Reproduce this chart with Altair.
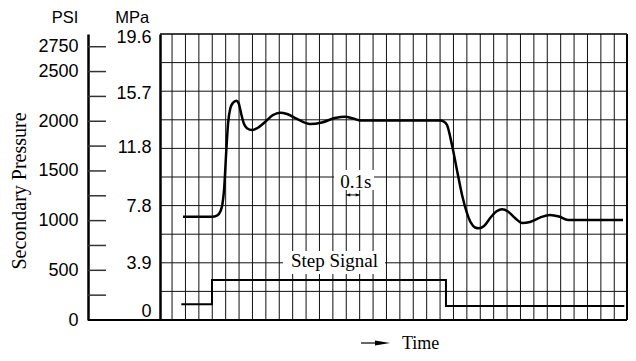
import altair as alt
import pandas as pd

# ---- data (time in 0.1 s grid units, pressure in MPa) ----
curve_t = [1.82, 3.98, 4.35, 4.62, 4.76, 4.88, 5.05, 5.18, 5.35, 5.55, 5.79, 5.97,
           6.15, 6.35, 6.59, 6.97, 7.34, 7.94, 8.53, 9.06, 9.58, 10.32, 11.29, 12.19,
           13.16, 13.91, 14.50, 15.10, 21.00, 21.29, 21.52, 21.89, 22.26, 22.64, 23.01,
           23.31, 23.61, 23.91, 24.28, 24.80, 25.25, 25.62, 26.07, 26.59, 27.12, 27.71,
           28.46, 29.20, 29.88, 30.55, 31.22, 34.65]
curve_p = [7.08, 7.08, 7.16, 7.47, 7.95, 8.91, 11.65, 13.48, 14.51, 14.89, 15.03, 14.85,
           14.17, 13.48, 13.14, 13.02, 13.14, 13.57, 14.05, 14.21, 14.12, 13.78, 13.43, 13.54,
           13.84, 13.93, 13.81, 13.67, 13.67, 13.60, 13.36, 11.99, 10.28, 8.57, 7.33,
           6.65, 6.34, 6.28, 6.44, 7.06, 7.47, 7.59, 7.44, 6.99, 6.65, 6.72,
           7.02, 7.20, 7.09, 6.85, 6.85, 6.85]
step_t = [1.69, 3.98, 21.44, 34.75]
step_p = [1.075, 2.74, 0.96, 0.96]

vgrid = [1, 2, 3, 4, 5, 6, 7, 8, 9, 10, 11, 12, 13, 14, 15, 16, 17, 18, 19, 20,
         21, 22, 23, 24, 25, 26, 27, 28, 29, 30, 31, 32, 33, 34]
hgrid = [1.96, 3.92, 5.88, 7.84, 9.8, 11.76, 13.72, 15.68, 17.64]
mpa_labels = [0, 3.9, 7.8, 11.8, 15.7, 19.6]
psi_labels = [0, 500, 1000, 1500, 2000, 2500, 2750]
psi_ticks = [250, 500, 750, 1000, 1250, 1500, 1750, 2000, 2250, 2500, 2750]

# annotation boxes (white backgrounds behind labels)
box_x = [9.28, 13.09]
box_x2 = [16.89, 16.07]
box_y = [3.15, 8.91]
box_y2 = [4.73, 10.28]
notes = ["Step Signal", "0.1s"]
note_t = [13.12, 14.71]
note_p = [3.61, 9.06]

W, H = 467, 286
SANS = "Liberation Sans"
SERIF = "Liberation Serif"

xs = alt.Scale(domain=[0.1, 34.95], nice=False, zero=False)
ys = alt.Scale(domain=[0, 19.6], nice=False, zero=False)
mpa_axis = alt.Axis(values=mpa_labels, format=".1~f", title=None, ticks=False, tickSize=0,
                    grid=False, domain=True, domainColor="black", domainWidth=2.5,
                    labelFont=SANS, labelFontSize=18, labelColor="black", labelPadding=9,
                    labelFlush=False, labelOverlap=False,
                    labelOffset={"condition": [
                        {"test": "datum.value == 0", "value": -9},
                        {"test": "datum.value > 19", "value": 3},
                        {"test": "datum.value > 15 && datum.value < 16", "value": 3},
                    ], "value": 0})


def X(f):
    return alt.X(f, type="quantitative", scale=xs, axis=None)


def Y(f):
    return alt.Y(f, type="quantitative", scale=ys, axis=mpa_axis)


one = alt.Data(values=[{}])

curve_df = pd.DataFrame({"t": curve_t, "p": curve_p})
step_df = pd.DataFrame({"t": step_t, "p": step_p})
vgrid_df = pd.DataFrame({"t": vgrid})
hgrid_df = pd.DataFrame({"p": hgrid})
box_df = pd.DataFrame({"x": box_x, "x2": box_x2, "y": box_y, "y2": box_y2})
note_df = pd.DataFrame({"label": notes, "t": note_t, "p": note_p})

vg = alt.Chart(vgrid_df).mark_rule(color="#111", strokeWidth=1).encode(x=X("t"))
hg = alt.Chart(hgrid_df).mark_rule(color="#111", strokeWidth=1).encode(y=Y("p"))
boxes = alt.Chart(box_df).mark_rect(color="white", opacity=1).encode(
    x=X("x"), x2="x2", y=Y("y"), y2="y2")
notes_l = alt.Chart(note_df).mark_text(font=SERIF, fontSize=19, color="black",
                                        align="center", baseline="alphabetic").encode(
    x=X("t"), y=Y("p"), text="label:N")

top_b = alt.Chart(pd.DataFrame({"p": [19.6]})).mark_rule(color="black", strokeWidth=1.5).encode(y=Y("p"))
right_b = alt.Chart(pd.DataFrame({"t": [34.95]})).mark_rule(color="black", strokeWidth=2).encode(x=X("t"))
bottom_b = alt.Chart(pd.DataFrame({"p": [0]})).mark_rule(color="black", strokeWidth=2.2).encode(
    x=alt.value(-72), x2=alt.value(W), y=Y("p"))

# 0.1 s dimension arrow
dim_df = pd.DataFrame({"t": [14], "t2": [15], "p": [8.57]})
dim = alt.Chart(dim_df).mark_rule(color="black", strokeWidth=1).encode(x=X("t"), x2="t2", y=Y("p"))
dim_r = alt.Chart(dim_df).mark_point(shape="M-1,-0.8L1,0L-1,0.8Z", filled=True, size=16,
                                     color="black", opacity=1, xOffset=-2).encode(x=X("t2"), y=Y("p"))
dim_l = alt.Chart(dim_df).mark_point(shape="M1,-0.8L-1,0L1,0.8Z", filled=True, size=16,
                                     color="black", opacity=1, xOffset=2).encode(x=X("t"), y=Y("p"))

curve = alt.Chart(curve_df).mark_line(interpolate="monotone", color="black", strokeWidth=2.5).encode(
    x=X("t"), y=Y("p"))
step = alt.Chart(step_df).mark_line(interpolate="step-after", color="black", strokeWidth=2).encode(
    x=X("t"), y=Y("p"))

# texts outside plot
psi_head = alt.Chart(one).mark_text(text="PSI", font=SANS, fontSize=16.5, color="black",
                                    align="center", baseline="alphabetic").encode(
    x=alt.value(-95), y=alt.value(-11.5))
mpa_head = alt.Chart(one).mark_text(text="MPa", font=SANS, fontSize=16.5, color="black",
                                    align="center", baseline="alphabetic").encode(
    x=alt.value(-27.7), y=alt.value(-11.5))
ytitle = alt.Chart(one).mark_text(text="Secondary Pressure", font=SERIF, fontSize=20, color="black",
                                  align="center", baseline="alphabetic", angle=270).encode(
    x=alt.value(-134.5), y=alt.value(157))
time_t = alt.Chart(one).mark_text(text="Time", font=SERIF, fontSize=18, color="black",
                                  align="left", baseline="alphabetic").encode(
    x=alt.value(242), y=alt.value(314.5))
time_shaft = alt.Chart(one).mark_rule(color="black", strokeWidth=1.2).encode(
    x=alt.value(201), x2=alt.value(220), y=alt.value(309))
time_head = alt.Chart(one).mark_point(shape="M-1,-0.33L1,0L-1,0.33Z", filled=True, size=225,
                                      color="black", opacity=1).encode(
    x=alt.value(222.5), y=alt.value(309))

mpa_layer = alt.layer(vg, hg, boxes, notes_l, top_b, right_b, bottom_b, dim, dim_r, dim_l,
                      curve, step, psi_head, mpa_head, ytitle, time_t, time_shaft, time_head)

psi_axis = alt.Axis(orient="left", offset=72, values=psi_labels, format="d", title=None,
                    ticks=False, tickSize=0, grid=False, domainColor="black", domainWidth=2.5,
                    labelFont=SANS, labelFontSize=18, labelColor="black", labelPadding=10,
                    labelFlush=False, labelOverlap=False)
psi_df = pd.DataFrame({"psi": psi_ticks})
psi_layer = alt.Chart(psi_df).mark_rule(color="#333", strokeWidth=1.5).encode(
    x=alt.value(-72), x2=alt.value(-54),
    y=alt.Y("psi:Q", scale=alt.Scale(domain=[0, 2878], nice=False, zero=False), axis=psi_axis))

chart = alt.layer(mpa_layer, psi_layer).resolve_scale(y="independent").properties(
    width=W, height=H,
    autosize=alt.AutoSizeParams(type="none"),
    padding={"left": 152, "top": 26, "right": 1, "bottom": 33},
    background="white",
).configure_view(strokeOpacity=0)

chart.save("out.html", embed_options={"renderer": "svg", "actions": False})
